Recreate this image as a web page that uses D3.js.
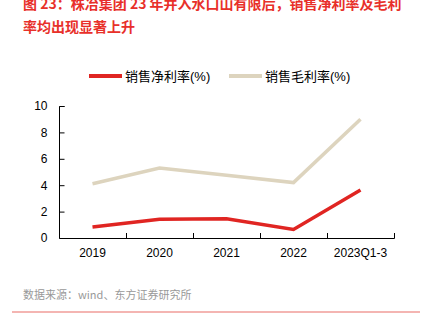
<!DOCTYPE html>
<meta charset="utf-8">
<style>
body { margin: 0; background: #fff; }
svg { display: block; font-family: "Liberation Sans", Arial, "Noto Sans CJK SC", sans-serif; }
.axis .domain, .axis line { stroke: #000; }
.axis text { font-size: 12px; fill: #000; }
</style>
<body>
<script src="https://cdn.jsdelivr.net/npm/d3@7"></script>
<script>
var years = ['2019', '2020', '2021', '2022', '2023Q1-3']
var netMargin = [0.83, 1.42, 1.46, 0.65, 3.64]
var grossMargin = [4.11, 5.3, 4.75, 4.2, 9.0]
var yTicks = [0, 2, 4, 6, 8, 10]
var seriesNames = ['销售净利率(%)', '销售毛利率(%)']
var seriesColors = ['#e02522', '#ddd4be']

var W = 424, H = 332
var margin = { top: 106, right: 30, bottom: 94, left: 59 }
var width = W - margin.left - margin.right
var height = H - margin.top - margin.bottom

var svg = d3.select('body').append('svg')
    .attr('width', W)
    .attr('height', H)

// title, two lines, red
var title = svg.append('text')
    .attr('fill', '#e8302a')
    .style('font-family', '"Noto Sans CJK SC", sans-serif')
    .style('font-size', '14px')
    .style('font-weight', 700)
title.append('tspan').attr('x', 23).attr('y', 9)
    .text('图 23：株冶集团 23 年并入水口山有限后，销售净利率及毛利')
title.append('tspan').attr('x', 23).attr('y', 32)
    .text('率均出现显著上升')

var g = svg.append('g')
    .attr('transform', 'translate(' + margin.left + ',' + margin.top + ')')

var x = d3.scaleBand().domain(years).range([0, width])
var y = d3.scaleLinear().domain([0, 10]).range([height, 0])

var xAxis = g.append('g')
    .attr('class', 'axis')
    .attr('transform', 'translate(0,' + height + ')')
    .call(d3.axisBottom(x).tickSize(0).tickPadding(10))
xAxis.select('.domain').attr('d', 'M0.5,0.5H' + (width + 0.5))

// inward tick marks on the band boundaries
xAxis.selectAll('.bound')
    .data(years.slice(1).concat(['end']))
    .enter().append('line')
    .attr('class', 'bound')
    .attr('x1', function (d, i) { return Math.round(x(years[i]) + x.bandwidth()) + 0.5 })
    .attr('x2', function (d, i) { return Math.round(x(years[i]) + x.bandwidth()) + 0.5 })
    .attr('y1', 0.5).attr('y2', -5)

var yAxis = g.append('g')
    .attr('class', 'axis')
    .attr('transform', 'translate(0.5,0)')
    .call(d3.axisLeft(y).tickValues(yTicks).tickSize(-5).tickPadding(12).tickSizeOuter(0))
yAxis.select('.domain').attr('d', 'M0,' + (height + 0.5) + 'V0.5H5')

var line = d3.line()
    .x(function (d, i) { return x(years[i]) + x.bandwidth() / 2 })
    .y(function (d) { return y(d) })

g.append('path')
    .datum(grossMargin)
    .attr('fill', 'none')
    .attr('stroke', seriesColors[1])
    .attr('stroke-width', 3.5)
    .attr('d', line)

g.append('path')
    .datum(netMargin)
    .attr('fill', 'none')
    .attr('stroke', seriesColors[0])
    .attr('stroke-width', 3.5)
    .attr('d', line)

// legend
var legendX = [89, 229]
var legend = svg.selectAll('.legend')
    .data(seriesNames)
    .enter().append('g')
    .attr('class', 'legend')
    .attr('transform', function (d, i) { return 'translate(' + legendX[i] + ',76)' })
legend.append('line')
    .attr('x1', 0).attr('x2', 33)
    .attr('stroke', function (d, i) { return seriesColors[i] })
    .attr('stroke-width', 4)
legend.append('text')
    .attr('x', 36).attr('y', 0)
    .attr('dy', '0.35em')
    .style('font-size', '13px')
    .text(function (d) { return d })

// source note and bottom rule
svg.append('text')
    .attr('x', 23).attr('y', 299)
    .attr('fill', '#999')
    .style('font-size', '11px')
    .style('font-family', '"Noto Sans CJK SC", sans-serif')
    .text('数据来源：wind、东方证券研究所')

svg.append('line')
    .attr('x1', 12).attr('x2', 420)
    .attr('y1', 312).attr('y2', 312)
    .attr('stroke', '#f09c98')
    .attr('stroke-width', 1.5)
</script>
</body>
